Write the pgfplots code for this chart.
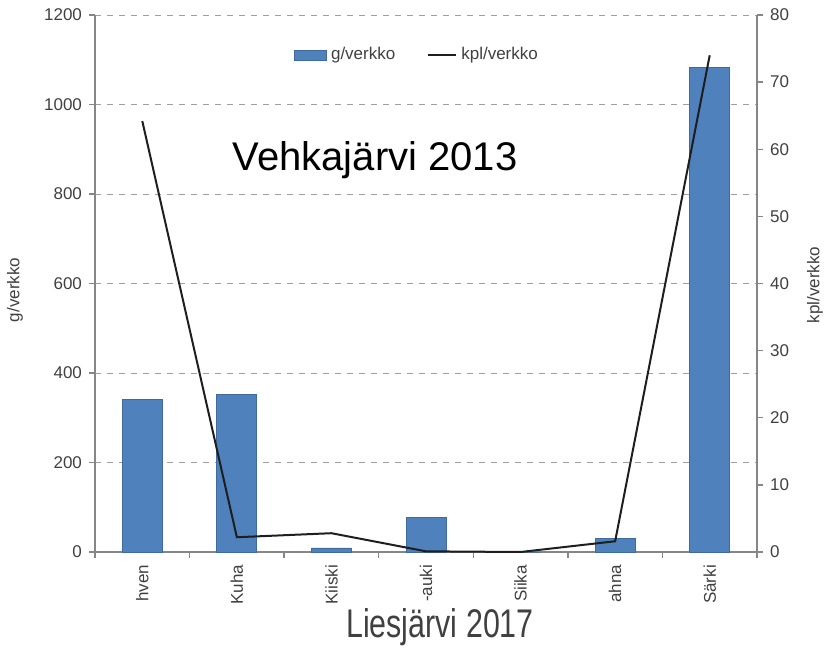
\documentclass[border=0pt]{standalone}
\usepackage{fontspec}
\setmainfont{Liberation Sans}
\usepackage{pgfplots}
\pgfplotsset{compat=1.18}
\definecolor{barblue}{HTML}{4F81BD}
\definecolor{baredge}{HTML}{3F6A9C}
\definecolor{axgray}{HTML}{868686}
\definecolor{txtgray}{HTML}{404040}
\definecolor{linedark}{HTML}{1E1E1E}

\pgfplotstableread{
x g kpl
0 340 64.2
1 353 2.2
2 9 2.8
3 78 0.1
4 0 0
5 31 1.6
6 1082 74
}\fishdata

\begin{document}
\begin{tikzpicture}
\path[use as bounding box] (-47.5pt,-48.5pt) rectangle (365pt,276pt);
\pgfplotsset{
  common/.style={
    scale only axis, width=331pt, height=268.5pt,
    at={(0,0)}, anchor=south west,
    xmin=-0.5, xmax=6.5,
    axis line style={axgray, line width=0.9pt},
    tick style={axgray, line width=0.7pt},
    tick align=outside,
    major tick length=3pt, minor tick length=3pt,
    ticklabel style={font=\fontsize{8.5}{10}\selectfont, text=txtgray},
    /pgf/number format/assume math mode=true,
    /pgf/number format/1000 sep={},
  }
}
\begin{axis}[common,
  axis y line*=left, axis x line*=bottom,
  ymin=0, ymax=1200, ytick={0,200,...,1200},
  ymajorgrids, grid style={dashed, gray!75, line width=0.5pt},
  xtick={0,...,6},
  xticklabels={hven,Kuha,Kiiski,-auki,Siika,ahna,Särki},
  major x tick style={draw=none},
  minor xtick={-0.5,0.5,...,6.5},
  x tick label style={rotate=90, anchor=east},
  ybar, bar width=20pt,
  legend columns=2,
  legend style={at={(0.488,0.925)}, anchor=center, draw=none, fill=none,
    font=\fontsize{8.5}{10}\selectfont, text=txtgray,
    /tikz/every even column/.append style={column sep=14pt}},
]
\addplot[fill=barblue, draw=baredge, line width=0.4pt,
  legend image code/.code={\draw[fill=barblue,draw=baredge] (0pt,-2.5pt) rectangle (16pt,2.5pt);}]
  table[x=x, y=g] {\fishdata};
\addlegendentry{g/verkko}
\addlegendimage{linedark, line width=1pt, legend image code/.code={\draw[linedark, line width=1pt] (0pt,0pt) -- (14pt,0pt);}}
\addlegendentry{kpl/verkko}
\node[font=\fontsize{20}{24}\selectfont, text=black] at (rel axis cs:0.423,0.73) {Vehkajärvi 2013};
\end{axis}
\begin{axis}[common,
  axis y line*=right, axis x line=none,
  ymin=0, ymax=80, ytick={0,10,...,80},
  xtick=\empty,
]
\addplot[linedark, line width=1pt, mark=none] table[x=x, y=kpl] {\fishdata};
\end{axis}
\node[font=\fontsize{8.5}{10}\selectfont, text=txtgray, rotate=90] at (-40pt,131pt) {g/verkko};
\node[font=\fontsize{8.5}{10}\selectfont, text=txtgray, rotate=90] at (360pt,133.5pt) {kpl/verkko};
\node[font=\fontsize{20}{24}\selectfont, text=black!75, xscale=0.76] at (172.5pt,-37.5pt) {Liesjärvi 2017};
\end{tikzpicture}
\end{document}
